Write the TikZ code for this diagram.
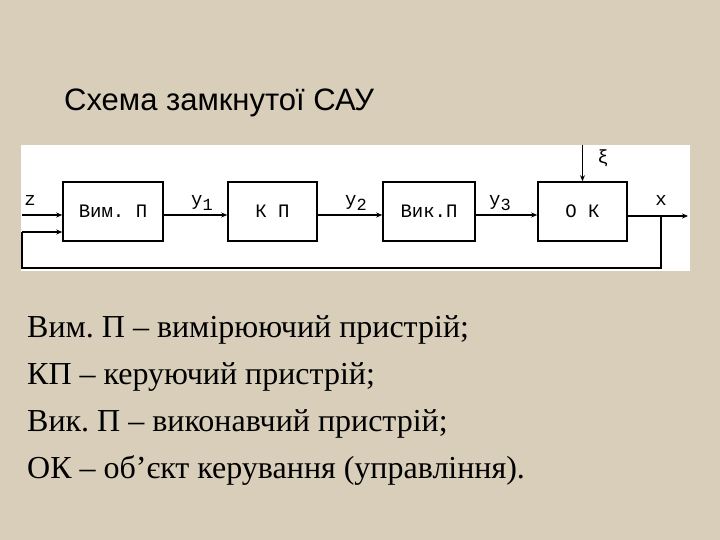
\documentclass[tikz,border=0pt]{standalone}
\usepackage{fontspec}
\setmainfont{Liberation Serif}
\newfontfamily\titlefont{Liberation Sans}
\newfontfamily\monofont{Liberation Mono}
\usetikzlibrary{arrows.meta}
\definecolor{parch}{RGB}{216,206,186}
\frenchspacing
\tikzset{
  blk/.style={draw=black, line width=1.6pt, fill=white, minimum height=59pt, inner sep=0pt,
    font=\monofont\fontsize{19}{19}\selectfont},
  conn/.style={line width=1.3pt, -{Stealth[length=6pt,width=5pt]}},
  wire/.style={line width=1.3pt},
  sig/.style={font=\monofont\fontsize{19}{19}\selectfont, inner sep=0pt},
  body/.style={anchor=base west, inner sep=0pt, font=\fontsize{32}{32}\selectfont}
}
\newcommand{\sgl}[1]{y\raisebox{-0.5ex}{\fontsize{17}{17}\selectfont #1}}
\begin{document}
\begin{tikzpicture}[x=1pt,y=-1pt]
\fill[parch] (0,0) rectangle (720,540);
\useasboundingbox (0,0) rectangle (720,540);
\fill[white] (21,145) rectangle (690,271);
\node[anchor=base west, inner sep=0pt, font=\titlefont\fontsize{31}{31}\selectfont] (title) at (64,111) {Схема замкнутої САУ};
% blocks
\node[blk, minimum width=100pt] (vim) at (113,211.5) {Вим. П};
\node[blk, minimum width=89pt] (kp) at (272.5,211.5) {К П};
\node[blk, minimum width=92pt] (vik) at (429,211.5) {Вик.П};
\node[blk, minimum width=89pt] (ok) at (582.5,211.5) {О К};
% coordinates
\coordinate (zin) at (22,215);
\coordinate (xitop) at (582.5,145);
\coordinate (xout) at (688,216);
\coordinate (fb) at (661,216);
\coordinate (fbb) at (661,268);
\coordinate (fbl) at (22,268);
\coordinate (fbu) at (22,232);
% connectors
\draw[conn] (zin) -- (vim.west |- zin);
\draw[conn] ([yshift=-3.5pt]vim.east) -- ([yshift=-3.5pt]kp.west);
\draw[conn] ([yshift=-3.5pt]kp.east) -- ([yshift=-3.5pt]vik.west);
\draw[conn] ([yshift=-3.5pt]vik.east) -- ([yshift=-3.5pt]ok.west);
\draw[conn] (ok.east |- xout) -- (xout);
\draw[conn] (xitop) -- (ok.north);
\draw[wire] (fb) -- (fbb) -- (fbl) -- (fbu);
\draw[conn] (fbu) -- (vim.west |- fbu);
% labels
\node[sig] (lz) at (30,200) {z};
\node[sig] (ly1) at (202,203) {\sgl{1}};
\node[sig] (ly2) at (356,203) {\sgl{2}};
\node[sig] (ly3) at (500,203) {\sgl{3}};
\node[sig] (lx) at (661,200) {x};
\node[sig] (lxi) at (603,158) {ξ};
% body text
\node[body] (t1) at (27,337) {Вим. П – вимірюючий пристрій;};
\node[body] (t2) at (27,384) {КП – керуючий пристрій;};
\node[body] (t3) at (27,431) {Вик. П – виконавчий пристрій;};
\node[body] (t4) at (27,478) {ОК – об’єкт керування (управління).};
\end{tikzpicture}
\end{document}
